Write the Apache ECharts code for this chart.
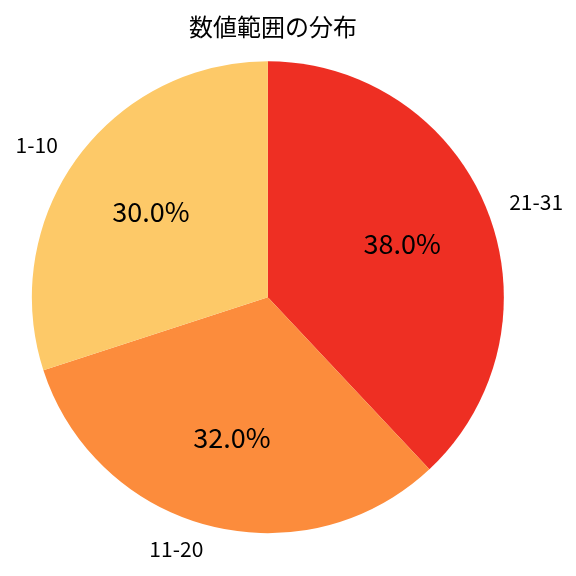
<!DOCTYPE html>
<html><head><meta charset="utf-8">
<script src="https://cdn.jsdelivr.net/npm/echarts@6/dist/echarts.min.js"></script>
<style>html,body{margin:0;padding:0;background:#fff}#c{width:576px;height:576px}</style>
</head><body><div id="c"></div>
<script>
var categories = ['21-31', '11-20', '1-10'];
var values = [38, 32, 30];
var colors = ['#EE2F23', '#FC8C3C', '#FDC968'];
var titleText = '数値範囲の分布';

var font = '"Noto Sans CJK JP", "Noto Sans", sans-serif';
var data = categories.map(function (c, i) { return { name: c, value: values[i] }; });
var total = values.reduce(function (a, b) { return a + b; }, 0);
var center = ['46.5%', '51.6%'];
var R = 236;

var chart = echarts.init(document.getElementById('c'), null, { renderer: 'canvas' });
chart.setOption({
  animation: false,
  color: colors,
  title: { text: titleText, left: 268, top: 10, textAlign: 'center',
    textStyle: { fontFamily: font, fontSize: 24, fontWeight: 'normal', color: '#000' } },
  series: [
    { type: 'pie', center: center, radius: [0, R], startAngle: 90, clockwise: true,
      silent: true, avoidLabelOverlap: false, data: data,
      label: { show: true, position: 'outside', fontFamily: font, fontSize: 21, color: '#000',
        formatter: '{b}', distanceToLabelLine: 0 },
      labelLine: { show: false, length: R * 0.1, length2: 0 } },
    { type: 'pie', center: center, radius: [0, R * 1.2], startAngle: 90, clockwise: true, silent: true,
      data: data, itemStyle: { color: 'transparent' }, labelLine: { show: false },
      label: { show: true, position: 'inside', fontFamily: font, fontSize: 27, color: '#000',
        formatter: function (p) { return (p.value / total * 100).toFixed(1) + '%'; } } }
  ]
});
</script></body></html>
